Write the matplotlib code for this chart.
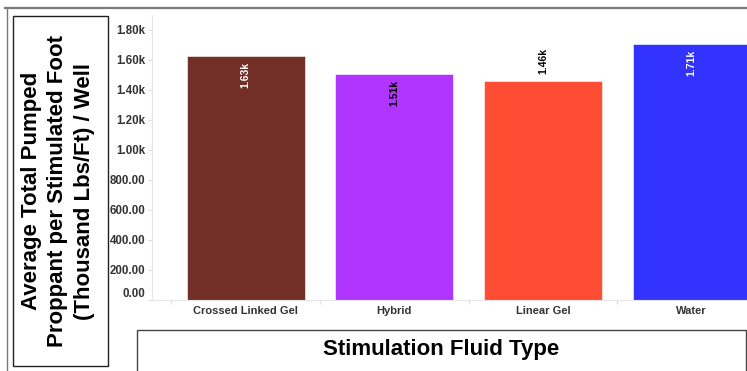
import matplotlib
matplotlib.use("Agg")
import matplotlib.pyplot as plt
from matplotlib.patches import Rectangle
from matplotlib.lines import Line2D

# data
fluids = ["Crossed Linked Gel", "Hybrid", "Linear Gel", "Water"]
proppant = [1630, 1510, 1460, 1710]     # thousand lbs/ft per well
bar_labels = ["1.63k", "1.51k", "1.46k", "1.71k"]
yticks = [0, 200, 400, 600, 800, 1000, 1200, 1400, 1600, 1800]
yticklabels = ["0.00", "200.00", "400.00", "600.00", "800.00",
               "1.00k", "1.20k", "1.40k", "1.60k", "1.80k"]

colors = ["#722f27", "#b035ff", "#ff4d33", "#3333ff"]
label_colors = ["white", "black", "black", "white"]
label_inside = [True, True, False, True]

plt.rcParams['font.family'] = ['Liberation Sans', 'DejaVu Sans']

W, H = 747, 371
fig = plt.figure(figsize=(W / 100, H / 100), dpi=100)

# axes placed in pixel terms: left 152, baseline 300, top 15; runs past right edge
x0, x1 = -0.63, 3.5
band = 148.7
ax = fig.add_axes([152 / W, (H - 300) / H, (x1 - x0) * band / W, 285 / H])
ax.bar(range(len(fluids)), proppant, width=0.795, color=colors,
       edgecolor="white", linewidth=0.4)
ax.set_xlim(x0, x1)
ax.set_ylim(0, 1900)

for i, (v, lab) in enumerate(zip(proppant, bar_labels)):
    if label_inside[i]:
        ax.annotate(lab, (i, v), xytext=(0, -6), textcoords="offset pixels",
                    rotation=90, ha="center", va="top", fontsize=7.5,
                    fontweight="bold", color=label_colors[i])
    else:
        ax.annotate(lab, (i, v), xytext=(0, 7), textcoords="offset pixels",
                    rotation=90, ha="center", va="bottom", fontsize=7.5,
                    fontweight="bold", color=label_colors[i])

ax.set_yticks(yticks)
ax.set_yticklabels(yticklabels, fontsize=8.3, fontweight="bold", color="#333333")
ax.get_yticklabels()[0].set_va("bottom")
ax.set_xticks(range(len(fluids)))
ax.set_xticklabels(fluids, fontsize=8, fontweight="bold", color="#333333")
ax.set_xticks([-0.5, 0.5, 1.5, 2.5, 3.5], minor=True)
ax.tick_params(axis="x", which="major", length=0, pad=4)
ax.tick_params(axis="x", which="minor", length=3, color="#e0e0e0", width=0.8)
ax.tick_params(axis="y", length=3, color="#e0e0e0", width=0.8, pad=2)

for s in ["top", "right"]:
    ax.spines[s].set_visible(False)
for s in ["left", "bottom"]:
    ax.spines[s].set_color("#e6e6e6")
    ax.spines[s].set_linewidth(0.8)

# outer frame lines
fig.add_artist(Line2D([5 / W, 1], [1 - 8 / H] * 2, color="#7a7a7a", lw=1.6))
fig.add_artist(Line2D([7 / W] * 2, [1 - 8 / H, 0], color="#7a7a7a", lw=1.0))

# y title box
fig.add_artist(Rectangle((13 / W, 1 - 366 / H), 95 / W, 350 / H,
                         transform=fig.transFigure, fill=False,
                         edgecolor="#222222", lw=1.0))
fig.text(58 / W, 1 - 191 / H,
         "Average Total Pumped\nProppant per Stimulated Foot\n(Thousand Lbs/Ft) / Well",
         rotation=90, ha="center", va="center", multialignment="center",
         fontsize=16, fontweight="bold", linespacing=1.32, color="black")

# x title box
fig.add_artist(Rectangle((137 / W, -0.05), (746 - 137) / W, 0.05 + (H - 330) / H,
                         transform=fig.transFigure, fill=False,
                         edgecolor="#444444", lw=1.0))
fig.text(441 / W, 1 - 349 / H, "Stimulation Fluid Type", ha="center", va="center",
         fontsize=16, fontweight="bold", color="black")

fig.savefig("out.png", dpi=100)
